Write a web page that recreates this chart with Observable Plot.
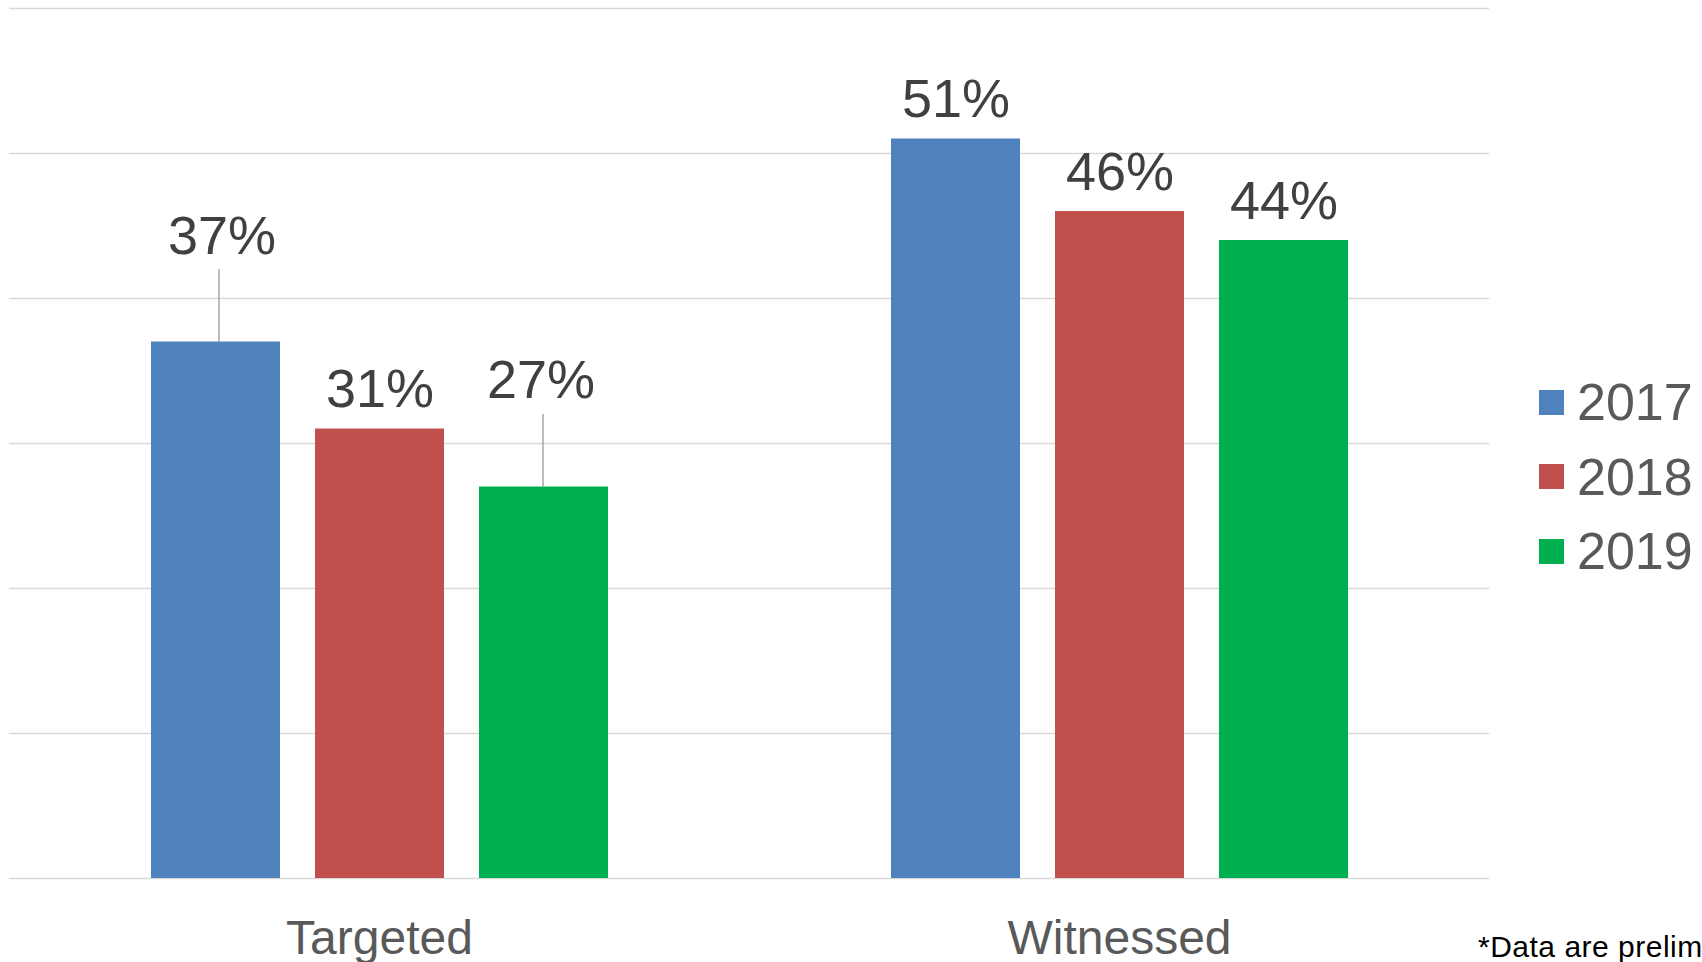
<!DOCTYPE html>
<html><head><meta charset="utf-8">
<script src="https://cdn.jsdelivr.net/npm/d3@7"></script>
<script src="https://cdn.jsdelivr.net/npm/@observablehq/plot@0.6"></script>
<style>
html,body{margin:0;padding:0;background:#fff;overflow:hidden;}
#wrap{position:relative;width:1702px;height:962px;font-family:"Liberation Sans",Arial,sans-serif;overflow:hidden;}
#wrap svg{display:block;position:absolute;left:0;top:0;}
.leg{position:absolute;left:1539px;height:74px;display:flex;align-items:center;white-space:nowrap;}
.leg .sw{width:25px;height:25px;margin-right:13px;flex:none;}
.leg .tx{font-size:52px;color:#595959;line-height:1;}
#foot{position:absolute;left:1478px;top:932px;font-size:30px;line-height:30px;letter-spacing:0.5px;color:#000;white-space:nowrap;}
</style></head>
<body><div id="wrap"></div>
<script>
const categories = ["Targeted", "Witnessed"];
const years = ["2017", "2018", "2019"];
const targetedValues = [37, 31, 27];
const witnessedValues = [51, 46, 44];
const yTicks = [0, 10, 20, 30, 40, 50, 60];
const footnoteText = "*Data are preliminary";

const seriesColors = ["#4f81bd", "#c0504d", "#00b050"];
const font = "'Liberation Sans', Arial, sans-serif";

const rows = [];
[targetedValues, witnessedValues].forEach((vals, ci) =>
  vals.forEach((v, yi) => rows.push({category: categories[ci], year: years[yi], value: v})));

const key = d => d.category + "|" + d.year;
// labels that were dragged up in the original, with leader lines
const movedLabels = {"Targeted|2017": {dx: 6, dy: -105, ldx: 3}, "Targeted|2019": {dx: -3, dy: -106, ldx: -1}};
const plotH = 962 - 8 - 84;
const leaderUnits = 73 * (yTicks[yTicks.length - 1] / plotH);

const marks = [
  Plot.gridY(yTicks, {stroke: "#d9d9d9", strokeOpacity: 1, strokeWidth: 1.6}),
  Plot.barY(rows, {fx: "category", x: "year", y: "value", fill: "year"}),
  Plot.text(rows.filter(d => !movedLabels[key(d)]), {
    fx: "category", x: "year", y: "value", text: d => d.value + "%",
    dy: -39, fontSize: 54, fill: "#404040", fontFamily: font
  }),
  Plot.text(categories, {
    fx: d => d, text: d => d, frameAnchor: "bottom", dy: 75,
    fontSize: 48, fill: "#595959", fontFamily: font
  })
];
for (const [k, o] of Object.entries(movedLabels)) {
  const sel = rows.filter(d => key(d) === k);
  marks.push(Plot.link(sel, {
    fx: "category", x1: "year", x2: "year", y1: "value", y2: d => d.value + leaderUnits,
    dx: o.ldx, stroke: "#a6a6a6", strokeWidth: 1.5
  }));
  marks.push(Plot.text(sel, {
    fx: "category", x: "year", y: "value", text: d => d.value + "%",
    dx: o.dx, dy: o.dy, fontSize: 54, fill: "#404040", fontFamily: font
  }));
}

const chart = Plot.plot({
  width: 1702, height: 962,
  marginLeft: 8, marginRight: 213, marginTop: 8, marginBottom: 84,
  style: {fontFamily: font, background: "transparent", overflow: "visible"},
  fx: {domain: categories, padding: 0, axis: null},
  x: {domain: years, paddingInner: 0.216, paddingOuter: 0.86, axis: null},
  y: {domain: [0, 60], axis: null},
  color: {domain: years, range: seriesColors},
  marks
});
const wrap = document.getElementById("wrap");
wrap.appendChild(chart);

const centers = [402, 476.5, 551];
years.forEach((yr, i) => {
  const row = document.createElement("div");
  row.className = "leg";
  row.style.top = (centers[i] - 37) + "px";
  row.innerHTML = `<div class="sw" style="background:${seriesColors[i]}"></div><div class="tx">${yr}</div>`;
  wrap.appendChild(row);
});
const foot = document.createElement("div");
foot.id = "foot";
foot.textContent = footnoteText;
wrap.appendChild(foot);
</script>
</body></html>
